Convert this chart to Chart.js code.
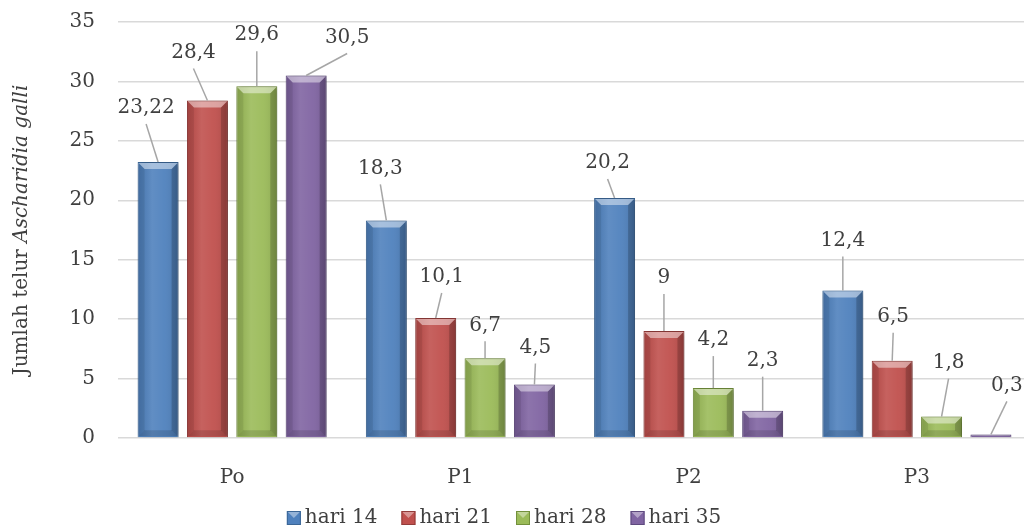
<!DOCTYPE html>
<html>
<head>
<meta charset="utf-8">
<script src="https://cdn.jsdelivr.net/npm/chart.js@4.4.1/dist/chart.umd.min.js"></script>
<style>
  html, body { margin: 0; padding: 0; background: #fff; overflow: hidden; }
  #wrap { width: 1034px; height: 530px; }
</style>
</head>
<body>
<div id="wrap"><canvas id="chart"></canvas></div>
<script>
// data
const categories = ['Po', 'P1', 'P2', 'P3'];
const seriesNames = ['hari 14', 'hari 21', 'hari 28', 'hari 35'];
const hari14 = [23.22, 18.3, 20.2, 12.4];
const hari21 = [28.4, 10.1, 9, 6.5];
const hari28 = [29.6, 6.7, 4.2, 1.8];
const hari35 = [30.5, 4.5, 2.3, 0.3];
const yTicks = [0, 5, 10, 15, 20, 25, 30, 35];
const yTitle = ['Jumlah telur ', 'Ascharidia galli'];

const seriesData = [hari14, hari21, hari28, hari35];
const fills = ['#4f81bd', '#c0504d', '#9bbb59', '#8064a2'];
const edges = ['#3b6696', '#933c3a', '#73903c', '#5e4a7e'];
const textColor = '#404040';
const FONT = 'DejaVu Serif';

// label placement relative to the top of each bar (dx, dy), like the hand-placed labels in the original
const labelOffsets = [
  [[-12, -54], [-6, -52], [-7, -35], [0, -50]],
  [[-14, -48], [6, -41], [0, -53], [1, -44]],
  [[0, -51], [0, -33], [0, -48], [7, -54]],
  [[41, -38], [1, -37], [0, -50], [16, -49]]
];

function fmt(v) { return String(v).replace('.', ','); }

// bevelled bar faces + drop shadow
const bevelBars = {
  id: 'bevelBars',
  beforeDatasetsDraw(chart) {
    const c = chart.ctx;
    c.save();
    c.shadowColor = 'rgba(0,0,0,0.35)';
    c.shadowBlur = 6;
    c.shadowOffsetX = 2;
    c.shadowOffsetY = 1;
  },
  afterDatasetsDraw(chart) {
    const c = chart.ctx;
    c.restore();
    chart.data.datasets.forEach((ds, i) => {
      chart.getDatasetMeta(i).data.forEach(bar => {
        const p = bar.getProps(['x', 'y', 'base', 'width'], true);
        const L = p.x - p.width / 2 + 1, R = p.x + p.width / 2 - 1;
        const T = Math.min(p.y, p.base) + 1, B = Math.max(p.y, p.base) - 1;
        if (B <= T) return;
        const b = Math.min(6, (B - T) / 2);
        const poly = (pts, col) => {
          c.beginPath();
          c.moveTo(pts[0][0], pts[0][1]);
          pts.slice(1).forEach(q => c.lineTo(q[0], q[1]));
          c.closePath();
          c.fillStyle = col;
          c.fill();
        };
        // soft highlight across the face
        const g = c.createLinearGradient(L, 0, R, 0);
        g.addColorStop(0, 'rgba(0,0,0,0.08)');
        g.addColorStop(0.35, 'rgba(255,255,255,0.10)');
        g.addColorStop(0.65, 'rgba(255,255,255,0.05)');
        g.addColorStop(1, 'rgba(0,0,0,0.12)');
        c.fillStyle = g;
        c.fillRect(L, T, R - L, B - T);
        poly([[L, T], [L + b, T + b], [L + b, B - b], [L, B]], 'rgba(0,0,0,0.08)');
        poly([[R, T], [R - b, T + b], [R - b, B - b], [R, B]], 'rgba(0,0,0,0.18)');
        poly([[L, B], [R, B], [R - b, B - b], [L + b, B - b]], 'rgba(0,0,0,0.12)');
        poly([[L, T], [R, T], [R - b, T + b], [L + b, T + b]], 'rgba(255,255,255,0.45)');
      });
    });
  }
};

// value labels with leader lines
const valueLabels = {
  id: 'valueLabels',
  afterDatasetsDraw(chart) {
    const c = chart.ctx;
    c.save();
    c.font = '20px "' + FONT + '"';
    c.textAlign = 'center';
    c.textBaseline = 'middle';
    chart.data.datasets.forEach((ds, i) => {
      chart.getDatasetMeta(i).data.forEach((bar, j) => {
        const off = labelOffsets[i][j];
        const lx = bar.x + off[0], ly = bar.y + off[1];
        c.strokeStyle = '#a6a6a6';
        c.lineWidth = 1.5;
        c.beginPath();
        c.moveTo(bar.x, bar.y);
        c.lineTo(lx, ly + 16);
        c.stroke();
        c.fillStyle = textColor;
        c.fillText(fmt(ds.data[j]), lx, ly);
      });
    });
    c.restore();
  }
};

// rotated y title with italic species name, and the legend
const extras = {
  id: 'extras',
  afterDraw(chart) {
    const c = chart.ctx;
    const area = chart.chartArea;
    c.save();
    // y title
    const fN = '20px "' + FONT + '"', fI = 'italic 20px "' + FONT + '"';
    c.font = fN; const w1 = c.measureText(yTitle[0]).width;
    c.font = fI; const w2 = c.measureText(yTitle[1]).width;
    c.translate(22, (area.top + area.bottom) / 2);
    c.rotate(-Math.PI / 2);
    c.fillStyle = textColor;
    c.textBaseline = 'middle';
    c.textAlign = 'left';
    c.font = fN; c.fillText(yTitle[0], -(w1 + w2) / 2, 0);
    c.font = fI; c.fillText(yTitle[1], -(w1 + w2) / 2 + w1, 0);
    c.restore();

    // legend
    c.save();
    c.font = '20px "' + FONT + '"';
    c.textBaseline = 'middle';
    c.textAlign = 'left';
    const box = 14, gap = 4, spacing = 24, cy = 518;
    const widths = seriesNames.map(n => box + gap + c.measureText(n).width);
    const total = widths.reduce((a, b) => a + b, 0) + spacing * (widths.length - 1);
    let x = 504 - total / 2;
    seriesNames.forEach((n, i) => {
      const top = cy - box / 2;
      c.fillStyle = fills[i];
      c.fillRect(x, top, box, box);
      c.fillStyle = 'rgba(255,255,255,0.4)';
      c.beginPath();
      c.moveTo(x, top); c.lineTo(x + box, top); c.lineTo(x + box / 2, top + box / 2); c.closePath();
      c.fill();
      c.strokeStyle = edges[i];
      c.lineWidth = 1;
      c.strokeRect(x + 0.5, top + 0.5, box - 1, box - 1);
      c.fillStyle = textColor;
      c.fillText(n, x + box + gap, cy);
      x += widths[i] + spacing;
    });
    c.restore();
  }
};

const ctx = document.getElementById('chart').getContext('2d');
new Chart(ctx, {
  type: 'bar',
  data: {
    labels: categories,
    datasets: seriesNames.map((name, i) => ({
      label: name,
      data: seriesData[i],
      backgroundColor: fills[i],
      borderColor: edges[i],
      borderWidth: 1
    }))
  },
  options: {
    responsive: true,
    maintainAspectRatio: false,
    animation: false,
    layout: { padding: { top: 22, right: 3, left: 0, bottom: 0 } },
    datasets: { bar: { categoryPercentage: 0.865, barPercentage: 0.83 } },
    plugins: {
      legend: { display: false },
      tooltip: { enabled: false }
    },
    scales: {
      x: {
        grid: { display: false },
        border: { display: false },
        ticks: { color: textColor, padding: 20, font: { family: FONT, size: 20 } },
        afterFit(s) { s.height = 92; s.paddingLeft = 0; s.paddingRight = 0; }
      },
      y: {
        min: 0,
        max: 35,
        afterBuildTicks(s) { s.ticks = yTicks.map(v => ({ value: v })); },
        ticks: { color: textColor, padding: 23, font: { family: FONT, size: 20 } },
        grid: { color: '#d9d9d9', lineWidth: 1.5, drawTicks: false },
        border: { display: false },
        afterFit(s) { s.width = 118; s.paddingTop = 0; s.paddingBottom = 0; }
      }
    }
  },
  plugins: [bevelBars, valueLabels, extras]
});
</script>
</body>
</html>
